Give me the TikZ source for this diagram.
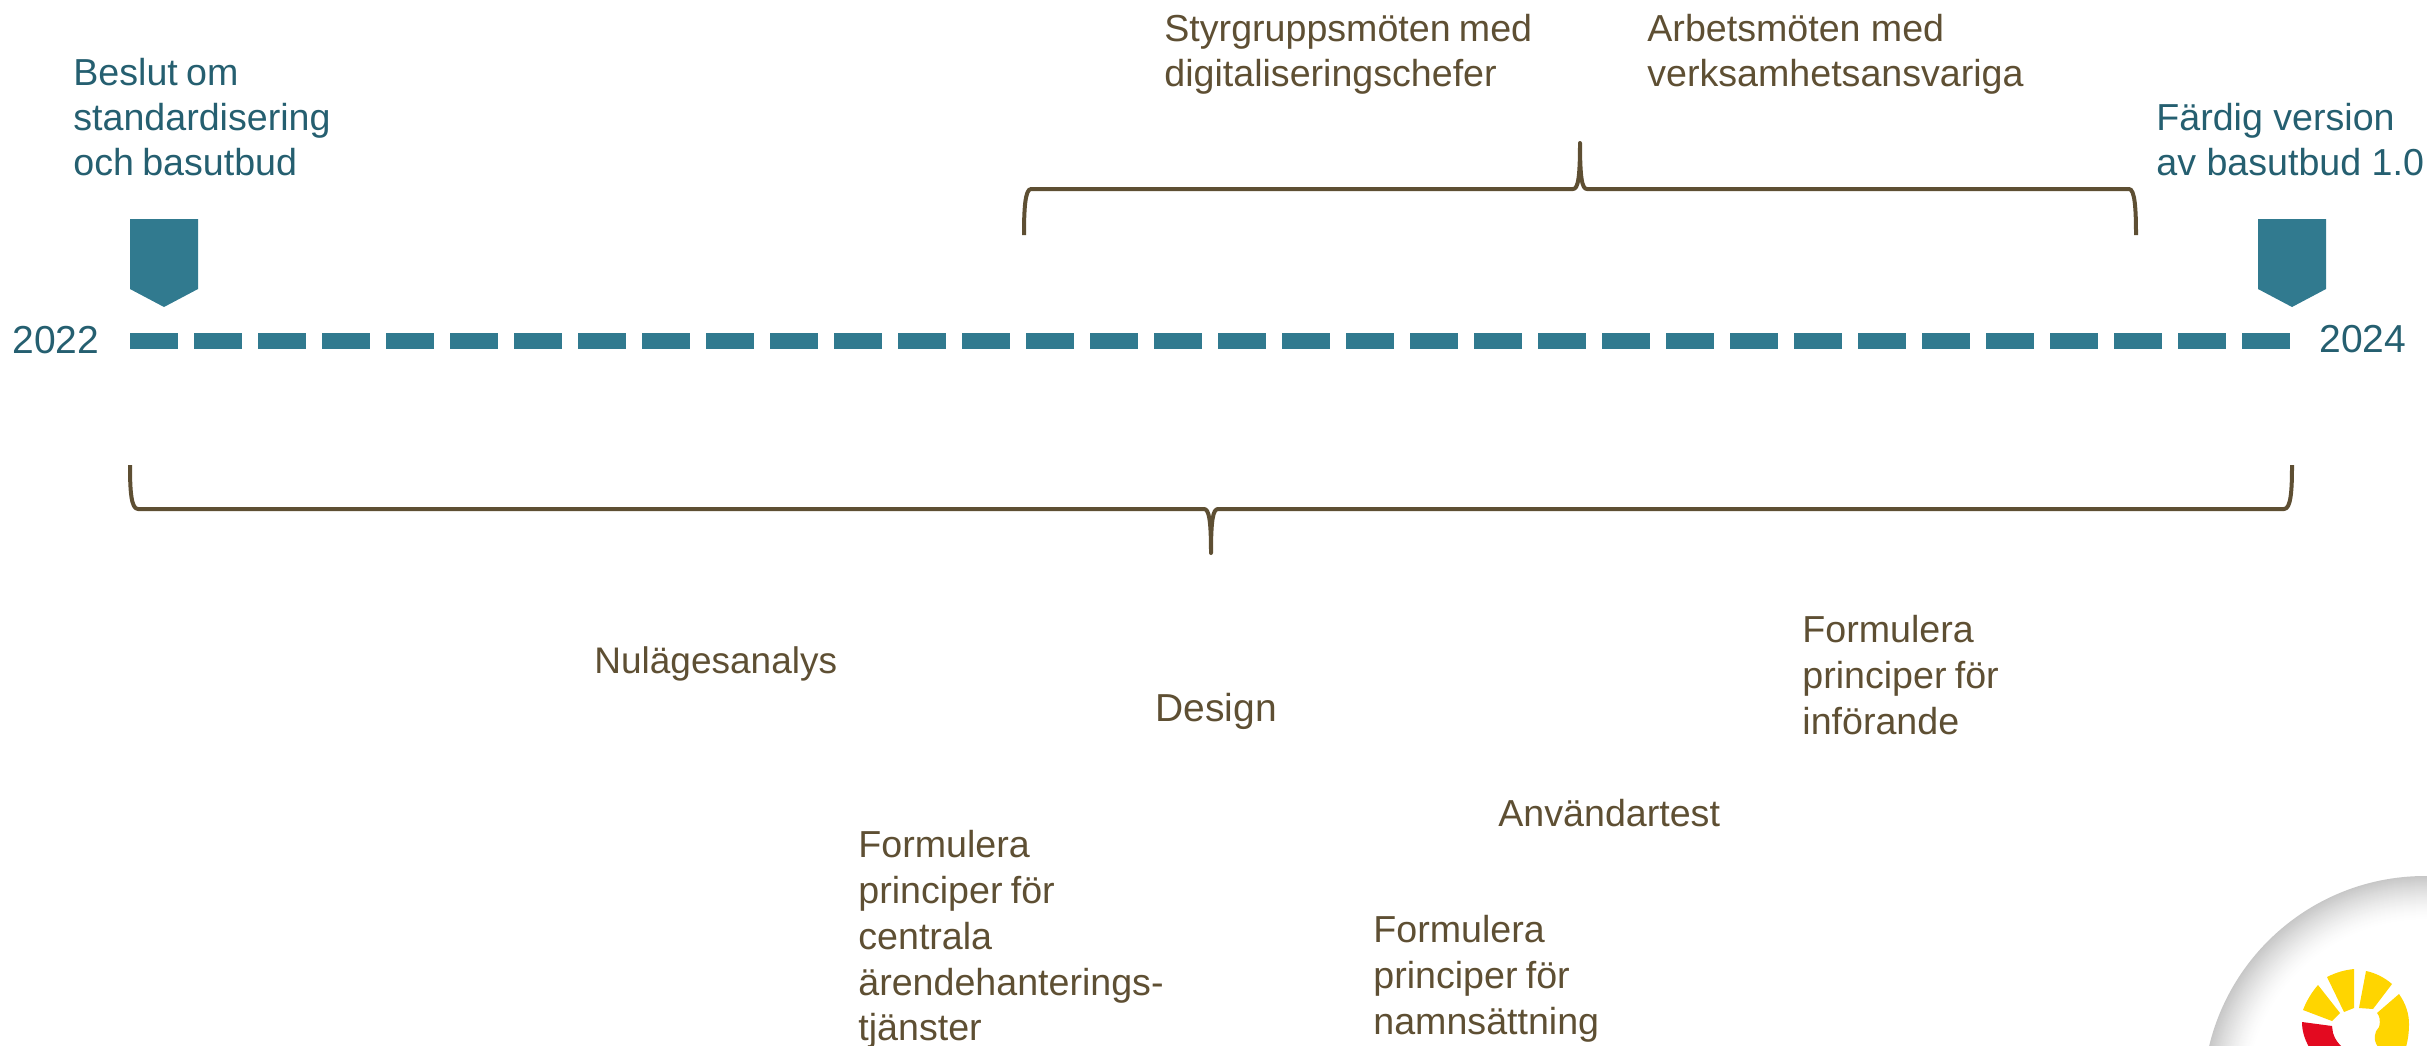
\documentclass[tikz,border=0pt]{standalone}
\usepackage{fontspec}
\setmainfont{Liberation Sans}
\definecolor{tealfill}{HTML}{317A8F}
\definecolor{tealtext}{HTML}{255F70}
\definecolor{browntext}{HTML}{5E4F33}
\definecolor{logoyellow}{HTML}{FFD500}
\definecolor{logored}{HTML}{E30A20}
\tikzset{
  x=0.5pt,y=-0.5pt,
  lbl/.style={anchor=north west,inner sep=0pt,align=left,font=\fontsize{18.8pt}{22.5pt}\selectfont},
  tight/.style={execute at begin node={\spaceskip=.22em\relax}},
  wide/.style={font=\fontsize{18.8pt}{22.9pt}\selectfont},
  big/.style={font=\fontsize{19.5pt}{22.5pt}\selectfont},
  small/.style={font=\fontsize{18.5pt}{22.5pt}\selectfont},
  tealtxt/.style={lbl,text=tealtext},
  browntxt/.style={lbl,text=browntext},
  brace/.style={draw=browntext,line width=2pt,line join=round},
  marker/.style={fill=tealfill,draw=none},
  dashbar/.style={fill=tealfill,draw=none},
}
\begin{document}
\begin{tikzpicture}
\useasboundingbox (0,0) rectangle (2427,1045);
\begin{scope}
\clip (0,0) rectangle (2427,1045);
% soft grey disc
\foreach \i in {0,...,44}{
  \pgfmathsetmacro{\rrr}{(222-\i)*0.5}
  \pgfmathsetmacro{\gv}{22*(1-\i/44)^1.5}
  \fill[black!\gv!white] (2425,1098) circle[radius=\rrr pt];
}
% logo
\fill[logoyellow] (2318,985) -- (2340,1013) -- (2332,1021) -- (2303,1010) .. controls (2306,1002) and (2311,993) .. (2318,985) -- cycle;
\fill[logoyellow] (2327,977) .. controls (2337,972) and (2345,970) .. (2354,969) -- (2354,1008) -- (2344,1012) -- cycle;
\fill[logoyellow] (2366,971) .. controls (2376,973) and (2385,978) .. (2392,984) -- (2373,1009) -- (2359,1008) -- cycle;
\fill[logoyellow] (2399,994) .. controls (2406,1004) and (2409,1014) .. (2409,1024) .. controls (2409,1032) and (2408,1040) .. (2406,1047) -- (2378,1047) .. controls (2373,1040) and (2374,1032) .. (2379,1027) .. controls (2381,1020) and (2379,1015) .. (2377,1013) -- cycle;
\fill[logored] (2302,1022) -- (2332,1026) -- (2333,1033) .. controls (2335,1040) and (2339,1044) .. (2342,1047) -- (2309,1047) .. controls (2304,1038) and (2302,1030) .. (2302,1022) -- cycle;
\end{scope}
% timeline dashes
\foreach \k in {0,...,33}{
  \fill[dashbar] ({130+64*\k},333) rectangle ({178+64*\k},349);
}
% markers
\fill[marker] (130,219) -- (198,219) -- (198,289) -- (164,307) -- (130,289) -- cycle;
\fill[marker] (2258,219) -- (2326,219) -- (2326,289) -- (2292,307) -- (2258,289) -- cycle;
% braces
\draw[brace] (1024,235) .. controls (1024,210) and (1025,189) .. (1031,189) -- (1573,189) .. controls (1578,189) and (1580,178) .. (1580,143) .. controls (1580,178) and (1582,189) .. (1587,189) -- (2129,189) .. controls (2135,189) and (2136,210) .. (2136,235);
\draw[brace] (130,465) .. controls (130,490) and (131,509) .. (138,509) -- (1204,509) .. controls (1209,509) and (1211,520) .. (1211,553) .. controls (1211,520) and (1213,509) .. (1218,509) -- (2284,509) .. controls (2291,509) and (2292,490) .. (2292,465);
% labels
\node[tealtxt,tight] (beslut) at (73,58) {Beslut om\\standardisering\\och basutbud};
\node[tealtxt] (fardig) at (2156,103) {Färdig version\\av basutbud 1.0};
\node[tealtxt,big] (y2022) at (12,326) {2022};
\node[tealtxt,big] (y2024) at (2319,325) {2024};
\node[browntxt,tight] (styr) at (1164,14) {Styrgruppsmöten med\\digitaliseringschefer};
\node[browntxt] (arbets) at (1647,14) {Arbetsmöten med\\verksamhetsansvariga};
\node[browntxt,small] (nulage) at (594,646) {Nulägesanalys};
\node[browntxt,big] (design) at (1155,693) {Design};
\node[browntxt,tight,wide] (inforande) at (1802,615) {Formulera\\principer för\\införande};
\node[browntxt] (anvandar) at (1498,799) {Användartest};
\node[browntxt,tight,wide] (centrala) at (858,830) {Formulera\\principer för\\centrala\\ärendehanterings-\\tjänster};
\node[browntxt,tight,wide] (namn) at (1373,915) {Formulera\\principer för\\namnsättning};
\end{tikzpicture}
\end{document}
